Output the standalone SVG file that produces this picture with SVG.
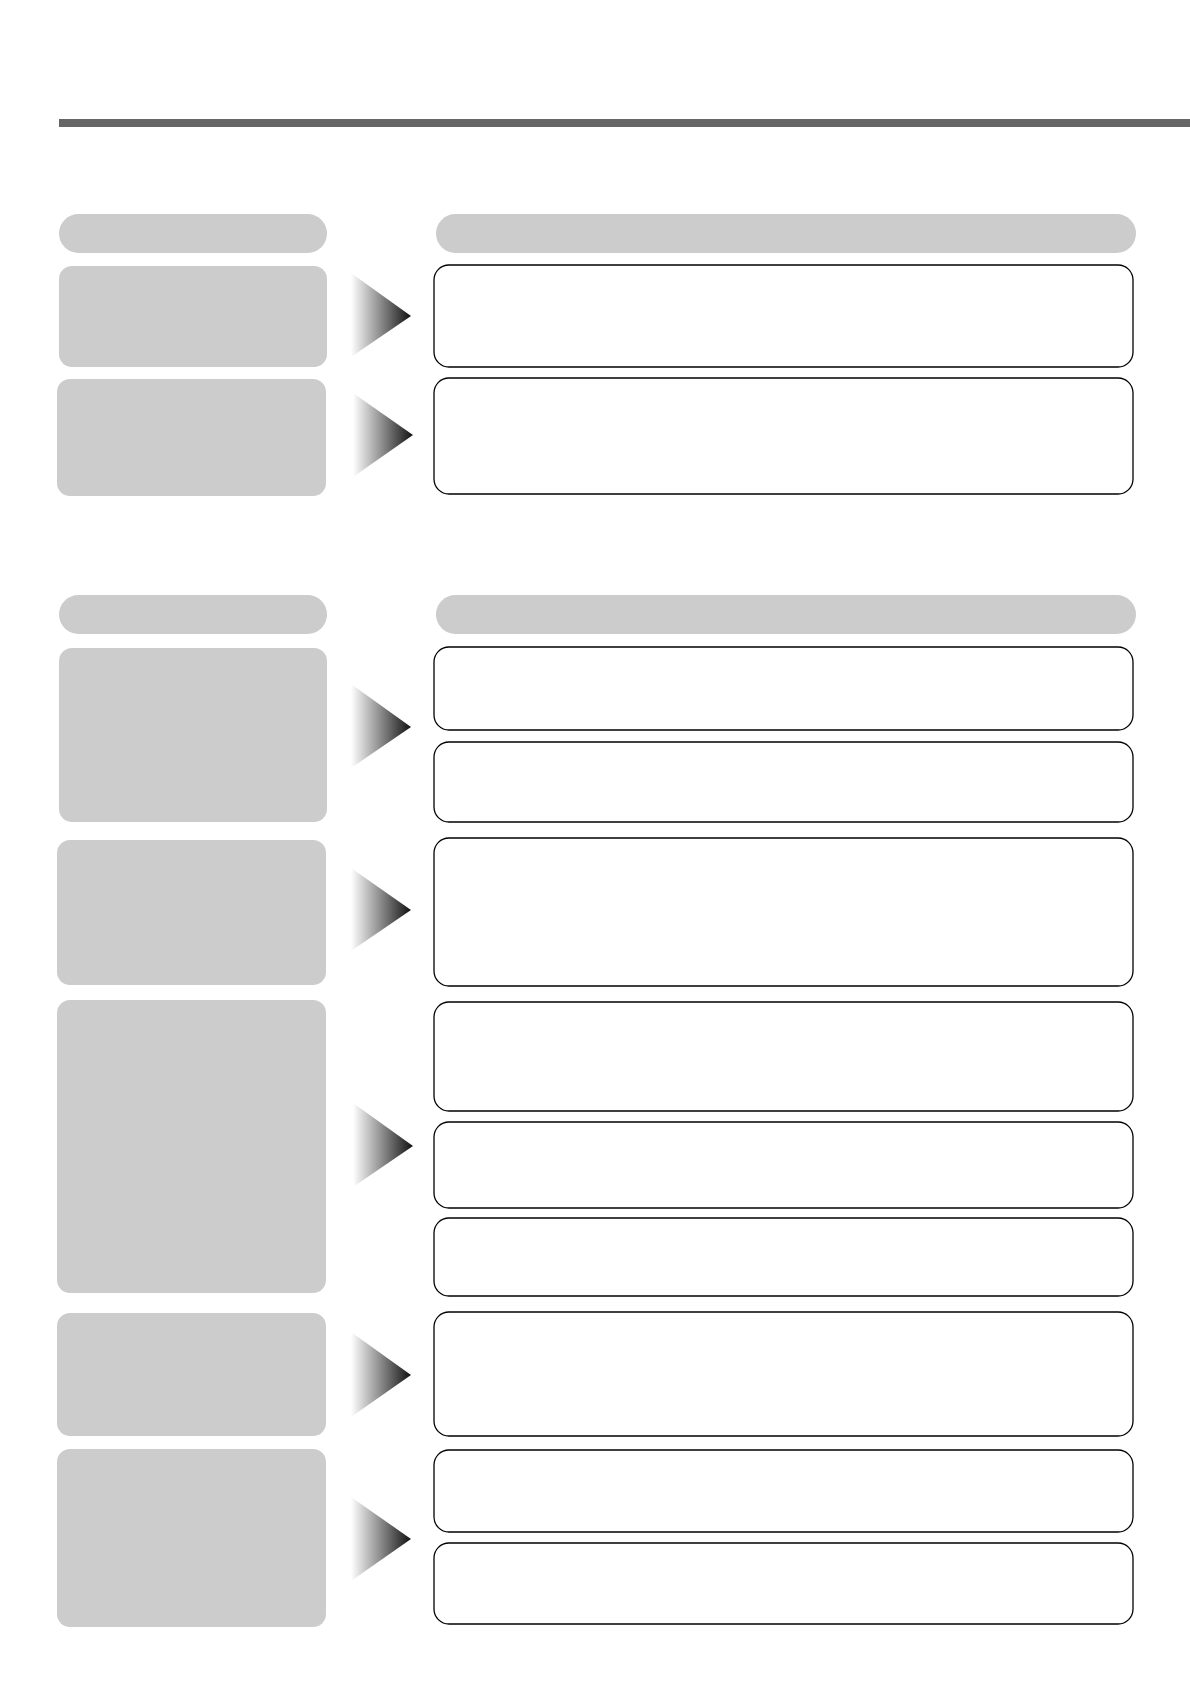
<svg xmlns="http://www.w3.org/2000/svg" width="1190" height="1684" viewBox="0 0 1190 1684">
<defs>
<linearGradient id="ag" x1="0" y1="0" x2="1" y2="0">
<stop offset="0" stop-color="#ffffff"/>
<stop offset="0.5" stop-color="#8a8a8a"/>
<stop offset="1" stop-color="#111111"/>
</linearGradient>
<style>
.hdr{fill:#cccccc}
.lbox{fill:#cccccc}
.rbox{fill:#ffffff;stroke:#000000;stroke-width:1.3}
.arr{fill:url(#ag)}
</style>
</defs>
<rect width="1190" height="1684" fill="#ffffff"/>
<rect x="59" y="119" width="1131" height="8" fill="#666666"/>

<g id="section1">
<g id="hdr1-left"><rect class="hdr" x="59" y="214" width="268" height="39" rx="19.5"/></g>
<g id="hdr1-right"><rect class="hdr" x="436" y="214" width="700" height="39" rx="19.5"/></g>
<g id="l1"><rect class="lbox" x="59" y="266" width="268" height="101" rx="13"/></g>
<g id="l2"><rect class="lbox" x="57" y="379" width="269" height="117" rx="13"/></g>
<g id="r1"><rect class="rbox" x="434" y="265" width="699" height="102" rx="15"/></g>
<g id="r2"><rect class="rbox" x="434" y="378" width="699" height="116" rx="15"/></g>
</g>

<g id="section2">
<g id="hdr2-left"><rect class="hdr" x="59" y="595" width="268" height="39" rx="19.5"/></g>
<g id="hdr2-right"><rect class="hdr" x="436" y="595" width="700" height="39" rx="19.5"/></g>
<g id="lA"><rect class="lbox" x="59" y="648" width="268" height="174" rx="13"/></g>
<g id="rA1"><rect class="rbox" x="434" y="647" width="699" height="83" rx="15"/></g>
<g id="rA2"><rect class="rbox" x="434" y="742" width="699" height="80" rx="15"/></g>
<g id="lB"><rect class="lbox" x="57" y="840" width="269" height="145" rx="13"/></g>
<g id="rB"><rect class="rbox" x="434" y="838" width="699" height="148" rx="15"/></g>
<g id="lC"><rect class="lbox" x="57" y="1000" width="269" height="293" rx="13"/></g>
<g id="rC1"><rect class="rbox" x="434" y="1002" width="699" height="109" rx="15"/></g>
<g id="rC2"><rect class="rbox" x="434" y="1122" width="699" height="86" rx="15"/></g>
<g id="rC3"><rect class="rbox" x="434" y="1218" width="699" height="78" rx="15"/></g>
<g id="lD"><rect class="lbox" x="57" y="1313" width="269" height="123" rx="13"/></g>
<g id="rD"><rect class="rbox" x="434" y="1312" width="699" height="124" rx="15"/></g>
<g id="lE"><rect class="lbox" x="57" y="1449" width="269" height="178" rx="13"/></g>
<g id="rE1"><rect class="rbox" x="434" y="1450" width="699" height="82" rx="15"/></g>
<g id="rE2"><rect class="rbox" x="434" y="1543" width="699" height="81" rx="15"/></g>
</g>

<g id="connectors">
<polygon class="arr" points="351,273 411,316 351,357"/>
<polygon class="arr" points="353,393 413,435 353,477"/>
<polygon class="arr" points="351,684 411,727 351,768"/>
<polygon class="arr" points="351,868 411,910 351,951"/>
<polygon class="arr" points="353,1103 413,1146 353,1187"/>
<polygon class="arr" points="351,1332 411,1375 351,1417"/>
<polygon class="arr" points="351,1497 411,1539 351,1581"/>
</g>
</svg>
